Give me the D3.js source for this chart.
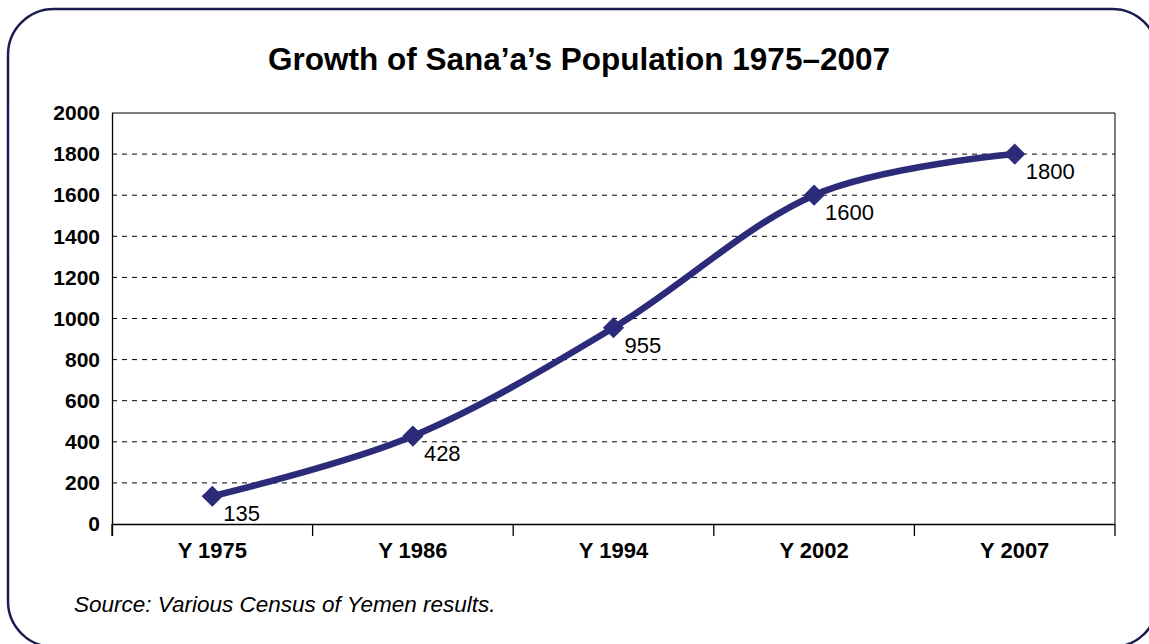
<!DOCTYPE html>
<html>
<head>
<meta charset="utf-8">
<script src="https://cdn.jsdelivr.net/npm/d3@7"></script>
<style>
  html, body { margin: 0; padding: 0; background: #ffffff; }
  svg { display: block; }
</style>
</head>
<body>
<svg id="chart" width="1149" height="644"></svg>
<script>
// ---- data ----
const categories = ["Y 1975", "Y 1986", "Y 1994", "Y 2002", "Y 2007"];
const population = [135, 428, 955, 1600, 1800];
const valueLabels = ["135", "428", "955", "1600", "1800"];
const yTicks = [0, 200, 400, 600, 800, 1000, 1200, 1400, 1600, 1800, 2000];
const titleText = "Growth of Sana’a’s Population 1975–2007";
const sourceText = "Source: Various Census of Yemen results.";

// ---- layout ----
const W = 1149, H = 644;
const plot = { left: 112, right: 1115, top: 113, bottom: 524 };
const lineColor = "#2b2b7a";
const frameColor = "#1c1c52";
const font = "'Liberation Sans', Arial, sans-serif";

const svg = d3.select("#chart");

// rounded frame
svg.append("rect")
  .attr("x", 8).attr("y", 9)
  .attr("width", 1150).attr("height", 638)
  .attr("rx", 46).attr("ry", 46)
  .attr("fill", "none")
  .attr("stroke", frameColor)
  .attr("stroke-width", 2.5);

// title
svg.append("text")
  .attr("x", 579).attr("y", 70)
  .attr("text-anchor", "middle")
  .attr("font-family", font)
  .attr("font-weight", "bold")
  .attr("font-size", 31.5)
  .attr("fill", "#000")
  .text(titleText);

// scales
const x = d3.scaleBand().domain(categories).range([plot.left, plot.right]).padding(0);
const y = d3.scaleLinear().domain([0, 2000]).range([plot.bottom, plot.top]);

// gridlines (dashed)
svg.append("g")
  .selectAll("line")
  .data(yTicks.filter(t => t > 0 && t < 2000))
  .join("line")
  .attr("x1", plot.left).attr("x2", plot.right)
  .attr("y1", d => y(d)).attr("y2", d => y(d))
  .attr("stroke", "#000")
  .attr("stroke-width", 1)
  .attr("stroke-dasharray", "5,5");

// plot border top and right
svg.append("line")
  .attr("x1", plot.left).attr("x2", plot.right)
  .attr("y1", plot.top).attr("y2", plot.top)
  .attr("stroke", "#000").attr("stroke-width", 1);
svg.append("line")
  .attr("x1", plot.right).attr("x2", plot.right)
  .attr("y1", plot.top).attr("y2", plot.bottom)
  .attr("stroke", "#000").attr("stroke-width", 1);

// y axis
const yAxis = svg.append("g")
  .attr("transform", `translate(${plot.left},0)`)
  .call(d3.axisLeft(y).tickValues(yTicks).tickSize(0).tickPadding(12).tickFormat(d3.format("d")));
yAxis.select(".domain").attr("stroke", "#000").attr("stroke-width", 1.3)
  .attr("d", `M0.5,${plot.top}V${plot.bottom + 12}`);
yAxis.selectAll("text")
  .attr("font-family", font).attr("font-weight", "bold").attr("font-size", 21).attr("fill", "#000");

// x axis
const xAxis = svg.append("g")
  .attr("transform", `translate(0,${plot.bottom})`)
  .call(d3.axisBottom(x).tickSize(0).tickPadding(18));
xAxis.select(".domain").attr("stroke", "#000").attr("stroke-width", 1.5)
  .attr("d", `M${plot.left},0.5H${plot.right}`);
xAxis.selectAll("text")
  .attr("font-family", font).attr("font-weight", "bold").attr("font-size", 22).attr("fill", "#000");
// category boundary ticks
const boundaries = categories.map(c => x(c)).concat([x(categories[categories.length - 1]) + x.bandwidth()]);
xAxis.append("g").selectAll("line")
  .data(boundaries)
  .join("line")
  .attr("x1", d => d).attr("x2", d => d)
  .attr("y1", 0).attr("y2", 12)
  .attr("stroke", "#000").attr("stroke-width", 1.3);

// line
const pts = categories.map((c, i) => ({ c, v: population[i], label: valueLabels[i] }));
const cx = d => x(d.c) + x.bandwidth() / 2;
const line = d3.line().x(cx).y(d => y(d.v)).curve(d3.curveCardinal.tension(0));
svg.append("path")
  .datum(pts)
  .attr("d", line)
  .attr("fill", "none")
  .attr("stroke", lineColor)
  .attr("stroke-width", 6.5)
  .attr("stroke-linejoin", "round");

// markers
svg.append("g").selectAll("path")
  .data(pts)
  .join("path")
  .attr("d", d3.symbol(d3.symbolSquare, 225))
  .attr("transform", d => `translate(${cx(d)},${y(d.v)}) rotate(45)`)
  .attr("fill", lineColor);

// value labels
svg.append("g").selectAll("text")
  .data(pts)
  .join("text")
  .attr("x", d => cx(d) + 11)
  .attr("y", d => y(d.v) + 25)
  .attr("font-family", font)
  .attr("font-size", 22)
  .attr("fill", "#000")
  .text(d => d.label);

// source
svg.append("text")
  .attr("x", 74).attr("y", 612)
  .attr("font-family", font)
  .attr("font-style", "italic")
  .attr("font-size", 22.5)
  .attr("fill", "#000")
  .text(sourceText);
</script>
</body>
</html>
